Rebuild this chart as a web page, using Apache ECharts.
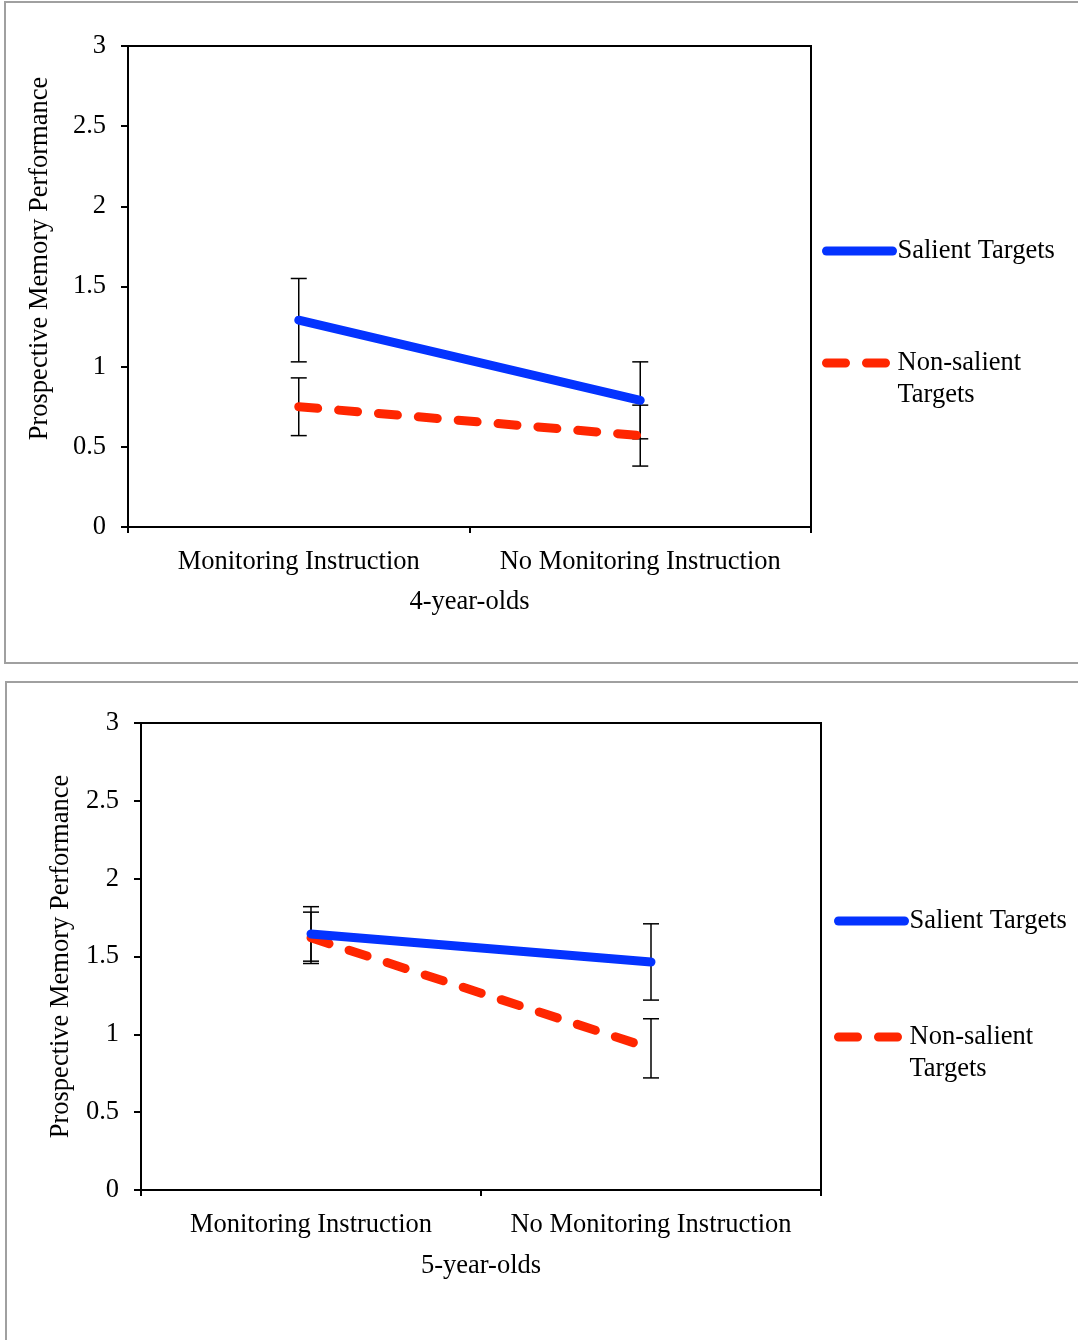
<!DOCTYPE html>
<html>
<head>
<meta charset="utf-8">
<script src="https://cdn.jsdelivr.net/npm/echarts@6/dist/echarts.min.js"></script>
<style>
html,body{margin:0;padding:0;background:#fff;}
#chart{width:1078px;height:1340px;}
</style>
</head>
<body>
<div id="chart"></div>
<script>
// ---- data ----
const categories = ['Monitoring Instruction', 'No Monitoring Instruction'];
const yTicks = [0, 0.5, 1, 1.5, 2, 2.5, 3];
const seriesNames = ['Salient Targets', 'Non-salient Targets'];
// 4-year-olds
const salient4 = [1.29, 0.79];
const salient4Err = [0.26, 0.24];
const nonSalient4 = [0.75, 0.57];
const nonSalient4Err = [0.18, 0.19];
// 5-year-olds
const salient5 = [1.645, 1.465];
const salient5Err = [0.175, 0.245];
const nonSalient5 = [1.62, 0.91];
const nonSalient5Err = [0.165, 0.19];
const panelTitles = ['4-year-olds', '5-year-olds'];

const FONT = "'Liberation Serif', 'Times New Roman', 'DejaVu Serif', serif";
const FS = 26.5;
const BLUE = '#0433FF';
const RED = '#FF2600';

function errData(vals, errs) {
  return vals.map((v, i) => [i, v - errs[i], v + errs[i]]);
}

function errorRender(params, api) {
  const x = api.value(0);
  const lo = api.coord([x, api.value(1)]);
  const hi = api.coord([x, api.value(2)]);
  const w = 8;
  const st = { stroke: '#000', lineWidth: 1.5 };
  return {
    type: 'group',
    children: [
      { type: 'line', shape: { x1: hi[0], y1: hi[1], x2: lo[0], y2: lo[1] }, style: st },
      { type: 'line', shape: { x1: hi[0] - w, y1: hi[1], x2: hi[0] + w, y2: hi[1] }, style: st },
      { type: 'line', shape: { x1: lo[0] - w, y1: lo[1], x2: lo[0] + w, y2: lo[1] }, style: st }
    ]
  };
}

const grids = [
  { left: 128, top: 46, width: 683, height: 481 },
  { left: 141, top: 723, width: 680, height: 467 }
];

const xAxes = grids.map((g, i) => ({
  type: 'category',
  gridIndex: i,
  data: categories,
  name: panelTitles[i],
  nameLocation: 'middle',
  nameGap: i === 0 ? 62 : 63,
  nameTextStyle: { fontFamily: FONT, fontSize: FS, color: '#000' },
  axisLine: { lineStyle: { color: '#000', width: 2 } },
  axisTick: { show: true, length: 6, lineStyle: { color: '#000', width: 2 } },
  axisLabel: { fontFamily: FONT, fontSize: FS, color: '#000', margin: 22, interval: 0 }
}));

const yAxes = grids.map((g, i) => ({
  type: 'value',
  gridIndex: i,
  min: 0, max: 3, interval: 0.5,
  name: 'Prospective Memory Performance',
  nameLocation: 'middle',
  nameGap: i === 0 ? 74 : 65,
  nameTextStyle: { fontFamily: FONT, fontSize: FS, color: '#000', padding: i === 0 ? [0, 0, 0, 56] : 0 },
  axisLine: { show: true, lineStyle: { color: '#000', width: 2 } },
  axisTick: { show: true, length: 7, lineStyle: { color: '#000', width: 2 } },
  axisLabel: {
    fontFamily: FONT, fontSize: FS, color: '#000', margin: 22,
    formatter: v => (yTicks.indexOf(v) >= 0 ? String(v) : '')
  },
  splitLine: { show: false }
}));

const lineSets = [
  [salient4, nonSalient4, salient4Err, nonSalient4Err],
  [salient5, nonSalient5, salient5Err, nonSalient5Err]
];

const series = [];
lineSets.forEach((set, i) => {
  series.push({
    type: 'custom', xAxisIndex: i, yAxisIndex: i, z: 1,
    renderItem: errorRender, data: errData(set[0], set[2]),
    encode: { x: 0, y: [1, 2] }, silent: true
  });
  series.push({
    type: 'custom', xAxisIndex: i, yAxisIndex: i, z: 1,
    renderItem: errorRender, data: errData(set[1], set[3]),
    encode: { x: 0, y: [1, 2] }, silent: true
  });
  series.push({
    name: seriesNames[0], type: 'line', xAxisIndex: i, yAxisIndex: i, z: 3,
    data: set[0], symbol: 'none', animation: false,
    lineStyle: { color: BLUE, width: 9, cap: 'round' }, itemStyle: { color: BLUE }
  });
  series.push({
    name: seriesNames[1], type: 'line', xAxisIndex: i, yAxisIndex: i, z: 2,
    data: set[1], symbol: 'none', animation: false,
    lineStyle: { color: RED, width: 9, type: [19, 21], cap: 'round' }, itemStyle: { color: RED }
  });
});

function legendFor(left, top, gap) {
  return {
    orient: 'vertical', left: left, top: top, itemGap: gap,
    itemWidth: 66, itemHeight: 10, selectedMode: false,
    data: seriesNames,
    textStyle: { fontFamily: FONT, fontSize: FS, color: '#000', lineHeight: 32 },
    itemStyle: { opacity: 0 },
    lineStyle: { width: 9, cap: 'round' },
    formatter: n => (n === 'Non-salient Targets' ? '\nNon-salient\nTargets' : n)
  };
}

const option = {
  animation: false,
  backgroundColor: '#fff',
  grid: grids.map(g => Object.assign({ show: true, borderColor: '#000', borderWidth: 2, backgroundColor: 'transparent' }, g)),
  xAxis: xAxes,
  yAxis: yAxes,
  legend: [legendFor(817, 230, 48), legendFor(829, 900, 52)],
  series: series,
  graphic: [
    { type: 'rect', shape: { x: 5, y: 2, width: 1100, height: 661 }, style: { fill: 'none', stroke: '#a0a0a0', lineWidth: 2 }, silent: true, z: -1 },
    { type: 'rect', shape: { x: 6, y: 682, width: 1100, height: 700 }, style: { fill: 'none', stroke: '#a0a0a0', lineWidth: 2 }, silent: true, z: -1 }
  ]
};

const chart = echarts.init(document.getElementById('chart'), null, { renderer: 'canvas' });
chart.setOption(option);
</script>
</body>
</html>
